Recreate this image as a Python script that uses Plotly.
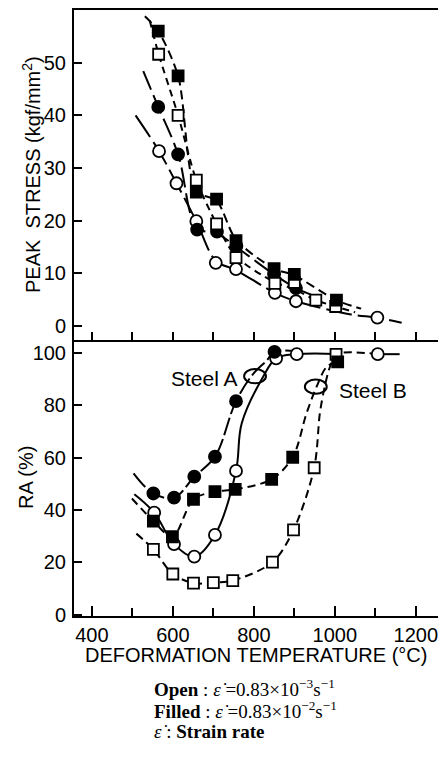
import plotly.graph_objects as go

# ---------------- data ----------------
# Top panel: peak stress (kgf/mm2) vs deformation temperature (C)
st_T_open_ci = [566, 609, 658, 706, 756, 852, 904, 1105]
st_open_ci = [33.2, 27.1, 19.9, 12.0, 10.8, 6.3, 4.7, 1.6]
st_T_fill_ci = [564, 613, 660, 709, 757, 850, 904]
st_fill_ci = [41.6, 32.6, 18.3, 17.9, 15.2, 9.8, 7.2]
st_T_open_sq = [565, 613, 658, 708, 756, 852, 900, 953, 1002]
st_open_sq = [51.6, 40.0, 27.7, 19.4, 13.0, 8.1, 8.3, 4.9, 3.7]
st_T_fill_sq = [564, 613, 658, 708, 756, 850, 900, 1004]
st_fill_sq = [56.0, 47.5, 25.4, 24.1, 16.2, 10.9, 9.8, 4.9]

# hand-drawn guide curves (top)
cv_T_open_ci = [508, 566, 609, 658, 706, 756, 852, 904, 1040, 1105, 1165]
cv_open_ci = [40.0, 33.2, 27.1, 19.9, 12.4, 10.6, 6.3, 4.7, 2.2, 1.6, 0.6]
cv_T_fill_ci = [527, 564, 613, 660, 709, 757, 850, 904, 960]
cv_fill_ci = [48.4, 41.6, 32.6, 18.6, 17.6, 15.0, 9.8, 7.2, 5.4]
cv_T_open_sq = [543, 565, 613, 658, 708, 756, 852, 900, 953, 1002, 1050]
cv_open_sq = [58.0, 51.6, 40.0, 27.7, 19.4, 13.2, 8.3, 7.0, 4.9, 3.7, 2.6]
cv_T_fill_sq = [531, 564, 613, 658, 708, 756, 850, 900, 1004, 1065]
cv_fill_sq = [58.8, 56.0, 47.5, 25.6, 23.8, 16.4, 10.9, 9.6, 4.9, 3.3]

# Bottom panel: RA (%) vs deformation temperature (C)
ra_T_open_ci = [554, 603, 653, 704, 756, 855, 906, 1106]
ra_open_ci = [39.0, 27.0, 22.2, 30.5, 54.9, 97.8, 99.4, 99.4]
ra_T_fill_ci = [552, 603, 653, 704, 756, 851]
ra_fill_ci = [46.3, 44.7, 52.7, 60.3, 81.5, 100.3]
ra_T_open_sq = [552, 600, 651, 700, 748, 846, 898, 949, 1003]
ra_open_sq = [25.0, 15.6, 12.1, 12.3, 13.1, 20.1, 32.4, 56.1, 99.3]
ra_T_fill_sq = [552, 599, 651, 704, 754, 844, 896, 1007]
ra_fill_sq = [35.8, 29.8, 44.1, 47.0, 47.9, 51.7, 60.1, 96.5]

# hand-drawn guide curves (bottom)
rc_T_fill_ci = [503, 552, 603, 653, 704, 756, 799, 832, 851, 906]
rc_fill_ci = [54.0, 46.3, 44.7, 52.7, 60.3, 81.5, 92.0, 97.0, 100.3, 100.4]
rc_T_open_ci = [505, 554, 603, 653, 704, 756, 770, 823, 855, 906, 1003]
rc_open_ci = [46.0, 39.0, 27.0, 22.2, 30.5, 54.9, 73.0, 90.8, 97.8, 99.4, 99.5]
rc_T_open_ci_tail = [1106, 1160]
rc_open_ci_tail = [99.4, 99.4]
rc_T_fill_sq = [499, 552, 599, 651, 704, 754, 844, 896, 930, 955, 980, 1007]
rc_fill_sq = [44.4, 35.8, 29.8, 44.1, 47.0, 47.9, 51.7, 60.1, 76.8, 87.0, 94.6, 96.5]
rc_T_open_sq = [510, 552, 600, 651, 700, 748, 846, 898, 949, 963, 975, 988, 1003, 1106]
rc_open_sq = [31.0, 25.0, 15.6, 12.1, 12.3, 13.1, 20.1, 32.4, 56.1, 76.8, 87.0, 94.6, 99.3, 99.4]

# labels
x_ticks = [400, 600, 800, 1000, 1200]
x_minor = [500, 700, 900, 1100]
st_ticks = [0, 10, 20, 30, 40, 50]
ra_ticks = [0, 20, 40, 60, 80, 100]
steel_labels = ["Steel A", "Steel B"]
steel_label_pos = [(677, 90.3), (1093, 85.7)]
steel_loop_pos = [(803, 91.0), (953, 87.0)]

# ---------------- figure ----------------
fig = go.Figure()
BLACK = "black"


def curve(xs, ys, dash, xa, ya, smooth=1.0):
    fig.add_trace(go.Scatter(x=xs, y=ys, mode="lines", xaxis=xa, yaxis=ya,
                             line=dict(color=BLACK, width=2, dash=dash,
                                       shape="spline", smoothing=smooth),
                             hoverinfo="skip", showlegend=False))


def marks(xs, ys, symbol, filled, xa, ya, size):
    fig.add_trace(go.Scatter(x=xs, y=ys, mode="markers", xaxis=xa, yaxis=ya,
                             marker=dict(symbol=symbol, size=size,
                                         color=BLACK if filled else "white",
                                         line=dict(color=BLACK, width=1.8)),
                             showlegend=False))


# top panel curves
curve(cv_T_open_ci, cv_open_ci, "26px,6px", "x", "y")
curve(cv_T_fill_ci, cv_fill_ci, "20px,6px", "x", "y")
curve(cv_T_open_sq, cv_open_sq, "7px,5px", "x", "y", 0.8)
curve(cv_T_fill_sq, cv_fill_sq, "9px,5px", "x", "y", 0.8)
# top panel markers
marks(st_T_open_ci, st_open_ci, "circle", False, "x", "y", 12)
marks(st_T_fill_ci, st_fill_ci, "circle", True, "x", "y", 12)
marks(st_T_open_sq, st_open_sq, "square", False, "x", "y", 11)
marks(st_T_fill_sq, st_fill_sq, "square", True, "x", "y", 11)

# bottom panel curves
curve(rc_T_fill_ci, rc_fill_ci, "18px,4px", "x2", "y2")
curve(rc_T_open_ci, rc_open_ci, "solid", "x2", "y2")
curve(rc_T_open_ci_tail, rc_open_ci_tail, "solid", "x2", "y2")
curve(rc_T_fill_sq, rc_fill_sq, "8px,5px", "x2", "y2", 0.9)
curve(rc_T_open_sq, rc_open_sq, "8px,5px", "x2", "y2", 0.9)
# bottom panel markers
marks(ra_T_open_ci, ra_open_ci, "circle", False, "x2", "y2", 12)
marks(ra_T_fill_ci, ra_fill_ci, "circle", True, "x2", "y2", 12)
marks(ra_T_open_sq, ra_open_sq, "square", False, "x2", "y2", 11)
marks(ra_T_fill_sq, ra_fill_sq, "square", True, "x2", "y2", 11)

FAM = "Liberation Sans, Arial, sans-serif"
TICKFONT = dict(family=FAM, size=20, color=BLACK)
XR = [356, 1272]
SPLIT = 1 - 330 / 606

# the page body has an 8px margin, so the figure is sized to fit the window
fig.update_layout(
    width=438, height=758,
    margin=dict(l=66, r=1, t=2, b=150, autoexpand=False),
    paper_bgcolor="white", plot_bgcolor="white",
    showlegend=False,
    xaxis=dict(domain=[0, 1], range=XR, anchor="y", showline=True, linecolor=BLACK,
               linewidth=2, mirror=True, ticks="inside", ticklen=8, tickwidth=2,
               tickcolor=BLACK, tick0=400, dtick=100, showticklabels=False,
               showgrid=False, zeroline=False, automargin=False),
    yaxis=dict(domain=[SPLIT, 1], range=[-2.66, 60], anchor="x", showline=True,
               linecolor=BLACK, linewidth=2, ticks="inside", ticklen=8, tickwidth=2,
               tickcolor=BLACK, tickvals=st_ticks, tickfont=TICKFONT, ticklabelstandoff=2,
               showgrid=False, zeroline=False, automargin=False),
    xaxis2=dict(domain=[0, 1], range=XR, anchor="y2", showline=True, linecolor=BLACK,
                linewidth=2, ticks="inside", ticklen=10, tickwidth=2, tickcolor=BLACK,
                tickvals=x_ticks, tickfont=TICKFONT, ticklabelstandoff=0,
                minor=dict(tickvals=x_minor, ticks="inside", ticklen=8,
                           tickwidth=2, tickcolor=BLACK),
                showgrid=False, zeroline=False, automargin=False),
    yaxis2=dict(domain=[0, SPLIT], range=[-0.4, 104.8], anchor="x2", showline=True,
                linecolor=BLACK, linewidth=2, mirror=True, ticks="inside", ticklen=8,
                tickwidth=2, tickcolor=BLACK, tickvals=ra_ticks, tickfont=TICKFONT,
                ticklabelstandoff=2,
                showgrid=False, zeroline=False, automargin=False),
)

# partial right border of the upper panel
fig.add_shape(type="line", xref="paper", yref="y", x0=1, x1=1, y0=-2.66, y1=7,
              line=dict(color=BLACK, width=2))

# loops marking steel groups
for (cx, cy) in steel_loop_pos:
    fig.add_shape(type="circle", xref="x2", yref="y2", x0=cx - 27, x1=cx + 27,
                  y0=cy - 2.7, y1=cy + 2.7, line=dict(color=BLACK, width=2))

TITLEFONT = dict(family=FAM, size=20, color=BLACK)
for lab, (lx, ly) in zip(steel_labels, steel_label_pos):
    fig.add_annotation(text=lab, x=lx, y=ly, xref="x2", yref="y2", showarrow=False,
                       font=dict(family=FAM, size=21, color=BLACK),
                       xanchor="center", yanchor="middle")

# axis titles (pixel positions measured relative to the plot area)
PL, PW, PB, PH = 74, 371, 616, 606
fig.add_annotation(text="PEAK  STRESS (kgf/mm<sup>2</sup>)", textangle=-90,
                   xref="paper", yref="paper", x=(31 - PL) / PW, y=(1 + SPLIT) / 2,
                   showarrow=False, font=TITLEFONT, xanchor="center", yanchor="middle")
fig.add_annotation(text="RA (%)", textangle=-90,
                   xref="paper", yref="paper", x=(26 - PL) / PW, y=SPLIT / 2,
                   showarrow=False, font=TITLEFONT, xanchor="center", yanchor="middle")
fig.add_annotation(text="DEFORMATION TEMPERATURE (°C)",
                   xref="paper", yref="paper", x=(256 - PL) / PW, y=-(655 - PB) / PH,
                   showarrow=False, font=TITLEFONT, xanchor="center", yanchor="middle")

# caption
CAP = dict(family="Liberation Serif, Times New Roman, serif", size=19, color=BLACK)
captions = [
    "<b>Open</b> : <i>\u03b5\u0307</i> =0.83\u00d710<sup>\u22123</sup>s<sup>\u22121</sup>",
    "<b>Filled</b> : <i>\u03b5\u0307</i> =0.83\u00d710<sup>\u22122</sup>s<sup>\u22121</sup>",
    "<i>\u03b5\u0307</i> : <b>Strain rate</b>",
]
for txt, py in zip(captions, [688, 710, 731]):
    fig.add_annotation(text=txt, xref="paper", yref="paper", x=(152 - PL) / PW,
                       y=-(py - PB) / PH, showarrow=False, font=CAP,
                       xanchor="left", yanchor="middle")

fig.write_html("out.html")
